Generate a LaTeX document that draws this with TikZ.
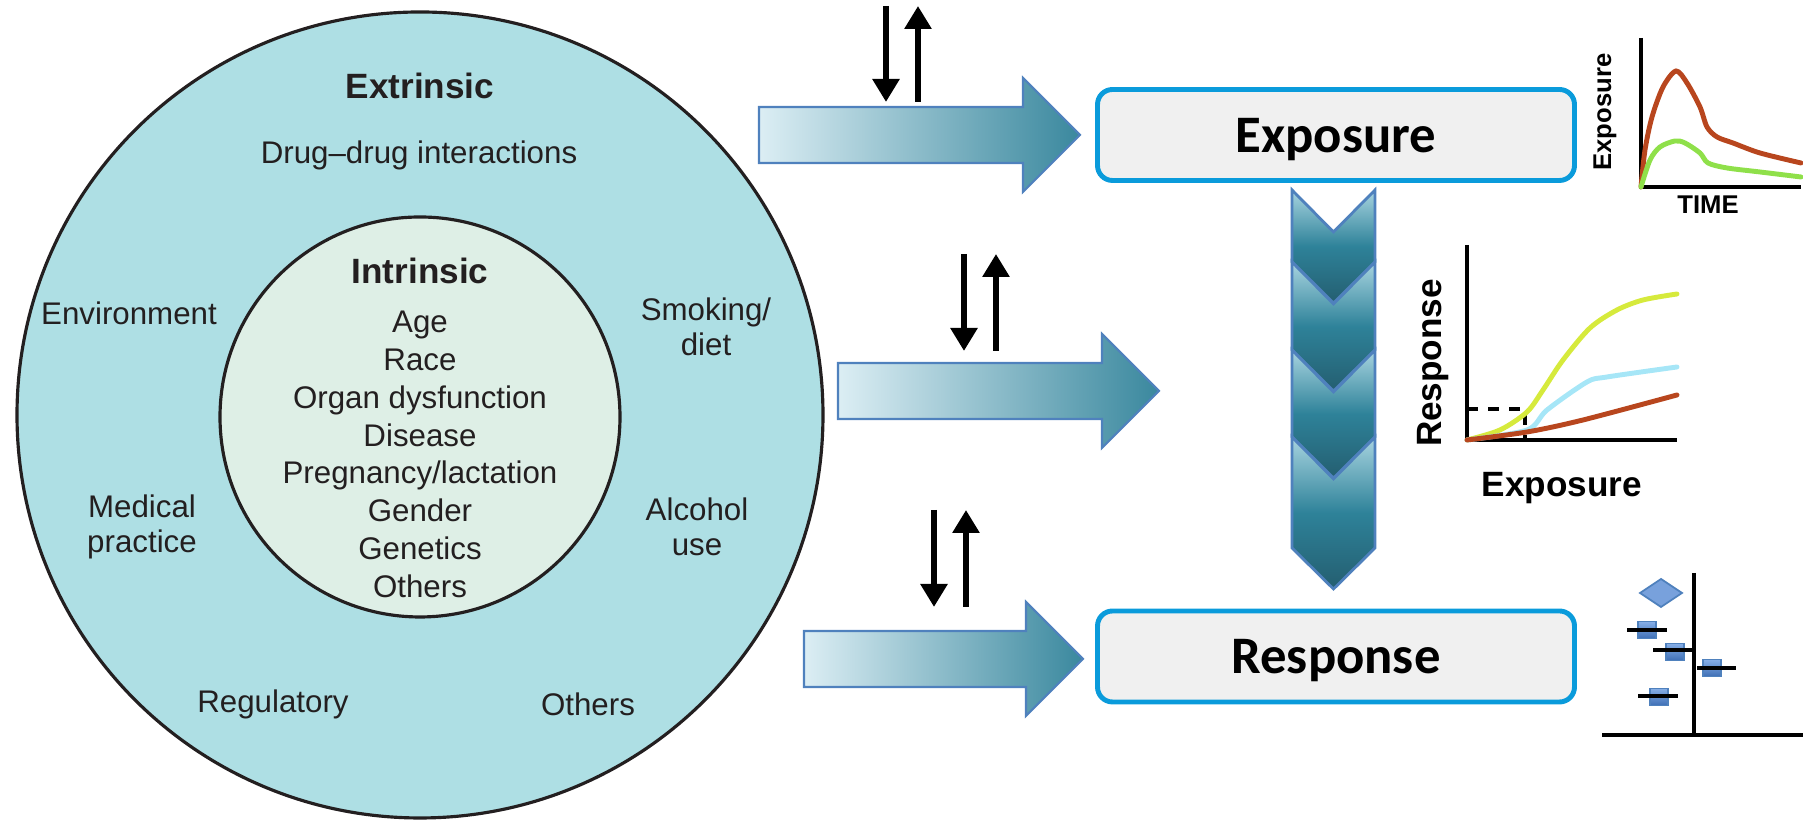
\documentclass[tikz,border=0pt]{standalone}
\usepackage{fontspec}
\setmainfont{Liberation Sans}
\newfontfamily\boxfont{Carlito}
\usepackage{xcolor}
\usepackage{tikz}
\usetikzlibrary{arrows.meta}

\definecolor{ringblue}{HTML}{AEDFE4}
\definecolor{corepale}{HTML}{DEEFE6}
\definecolor{inktext}{HTML}{231F20}
\definecolor{boxblue}{HTML}{0A9BDB}
\definecolor{boxfill}{HTML}{F0F0F0}
\definecolor{arrowedge}{HTML}{4F81BD}
\definecolor{teallight}{HTML}{DCEEF4}
\definecolor{tealdark}{HTML}{3A889E}
\definecolor{chevtop}{HTML}{A8D4E0}
\definecolor{chevmid}{HTML}{2E8299}
\definecolor{chevbot}{HTML}{245E70}
\definecolor{curvered}{HTML}{B8461E}
\definecolor{curvegreen}{HTML}{8FE04A}
\definecolor{curveyellow}{HTML}{D6EA3C}
\definecolor{curvecyan}{HTML}{A6E6F7}
\definecolor{marklight}{HTML}{86AEE6}
\definecolor{markdark}{HTML}{3F6FB5}

\begin{document}
\begin{tikzpicture}[
    factor/.style={text=inktext, align=center, font=\fontsize{8.9}{10}\selectfont},
    heading/.style={text=inktext, font=\fontsize{10}{12}\selectfont\bfseries},
    stagebox/.style={draw=boxblue, line width=1.4pt, fill=boxfill, rounded corners=0.15cm,
        minimum width=4.77cm, minimum height=0.91cm, text depth=0pt, font=\boxfont\fontsize{15}{18}\selectfont\bfseries},
    flow/.style={draw=arrowedge, line width=0.6pt, left color=teallight, right color=tealdark},
    chevron/.style={draw=arrowedge, line width=0.8pt, top color=chevtop, bottom color=chevbot, middle color=chevmid},
    updown/.style={line width=1.7pt, -{Triangle[width=2.6mm,length=2.3mm]}},
    axis/.style={line width=1.2pt},
    curve/.style={line width=1.4pt, line cap=round},
    smalllabel/.style={font=\fontsize{7.3}{8}\selectfont\bfseries},
    biglabel/.style={font=\fontsize{10}{12}\selectfont\bfseries},
    marker/.style={draw=arrowedge, line width=0.5pt, top color=marklight, bottom color=markdark}
]
    \useasboundingbox (0,0) rectangle (18.03,8.21);

    %%% CIRCLES %%%
    \draw[line width=0.9pt, draw=inktext, fill=ringblue] (4.20,4.06) circle (4.03);
    \draw[line width=0.9pt, draw=inktext, fill=corepale] (4.20,4.04) circle (2.00);

    %%% FACTORS %%%
    \node[heading] (extr) at (4.20,7.35) {Extrinsic};
    \node[factor] (ddi) at (4.19,6.66) {Drug--drug interactions};
    \node[factor] (env) at (1.29,5.08) {Environment};
    \node[factor] (smoke) at (7.06,4.94) {Smoking/\\diet};
    \node[factor] (medic) at (1.42,2.94) {Medical\\practice};
    \node[factor] (alco) at (6.97,2.94) {Alcohol\\use};
    \node[factor] (regul) at (2.73,1.17) {Regulatory};
    \node[factor] (othext) at (5.88,1.17) {Others};
    \node[heading] (intr) at (4.20,5.50) {Intrinsic};
    \node[factor, font=\fontsize{8.9}{10.75}\selectfont] (intrlist) at (4.20,3.665)
        {Age\\Race\\Organ dysfunction\\Disease\\Pregnancy/lactation\\Gender\\Genetics\\Others};

    %%% FLOW ARROWS %%%
    \foreach \xa/\xb/\ya in {7.59/10.23/6.86, 8.38/11.02/4.30, 8.04/10.26/1.62}
        \path[flow] (\xa,\ya-0.28) -- (\xb,\ya-0.28) -- (\xb,\ya-0.57) -- (\xb+0.57,\ya)
            -- (\xb,\ya+0.57) -- (\xb,\ya+0.28) -- (\xa,\ya+0.28) -- cycle;

    %%% UP AND DOWN ARROWS %%%
    \foreach \xd/\yt/\yb [count=\i] in {8.86/8.15/7.19, 9.64/5.67/4.70, 9.34/3.11/2.14} {
        \coordinate (dn\i s) at (\xd,\yt);
        \coordinate (dn\i e) at (\xd,\yb);
        \coordinate (up\i s) at (\xd+0.32,\yb);
        \coordinate (up\i e) at (\xd+0.32,\yt);
        \draw[updown] (dn\i s) -- (dn\i e);
        \draw[updown] (up\i s) -- (up\i e);
    }

    %%% CHEVRONS %%%
    \foreach \t/\b in {6.31/5.59, 5.59/4.71, 4.71/3.84, 3.84/2.73}
        \path[chevron] (12.92,\t) -- (13.335,\t-0.42) -- (13.75,\t) -- (13.75,\b)
            -- (13.335,\b-0.41) -- (12.92,\b) -- cycle;

    %%% STAGES %%%
    \node[stagebox] (expo) at (13.36,6.86) {Exposure};
    \node[stagebox] (resp) at (13.36,1.645) {Response};

    %%% EXPOSURE OVER TIME %%%
    \draw[axis] (16.41,7.83) -- (16.41,6.34) -- (18.01,6.34);
    \draw[curve, curvered] plot[smooth] coordinates {(16.41,6.34) (16.45,6.71) (16.52,7.04) (16.63,7.34)
        (16.76,7.50) (16.87,7.38) (17.00,7.14) (17.07,6.94) (17.17,6.84) (17.33,6.78) (17.60,6.68) (18.01,6.58)};
    \draw[curve, curvegreen] plot[smooth] coordinates {(16.41,6.34) (16.50,6.61) (16.60,6.74) (16.75,6.80)
        (16.85,6.78) (17.00,6.68) (17.08,6.58) (17.27,6.53) (17.60,6.49) (18.01,6.44)};
    \node[smalllabel, rotate=90] (expoy) at (16.05,7.09) {Exposure};
    \node[smalllabel] (timex) at (17.08,6.16) {TIME};

    %%% RESPONSE OVER EXPOSURE %%%
    \draw[line width=0.9pt, dashed] (14.67,4.12) -- (15.25,4.12) -- (15.25,3.81);
    \draw[axis] (14.67,5.76) -- (14.67,3.81) -- (16.77,3.81);
    \draw[curve, curveyellow] plot[smooth] coordinates {(14.67,3.81) (15.00,3.91) (15.27,4.09) (15.43,4.31)
        (15.63,4.61) (15.90,4.93) (16.17,5.11) (16.43,5.21) (16.77,5.27)};
    \draw[curve, curvecyan] plot[smooth] coordinates {(14.67,3.81) (15.27,3.91) (15.47,4.11) (15.87,4.39)
        (16.07,4.44) (16.77,4.54)};
    \draw[curve, curvered] plot[smooth] coordinates {(14.67,3.81) (15.27,3.89) (15.83,4.01) (16.77,4.26)};
    \node[biglabel, rotate=90] (respy) at (14.33,4.58) {Response};
    \node[biglabel] (expox) at (15.62,3.33) {Exposure};

    %%% FOREST PLOT %%%
    \path[draw=arrowedge, line width=0.5pt, fill=marklight!80!markdark] (16.40,2.28) -- (16.61,2.42) -- (16.82,2.28) -- (16.61,2.14) -- cycle;
    \foreach \xm/\ym in {16.47/1.91, 16.75/1.69, 17.12/1.53, 16.59/1.24}
        \path[marker] (\xm-0.09,\ym-0.085) rectangle (\xm+0.09,\ym+0.085);
    \foreach \xl/\xr/\yl in {16.27/16.67/1.91, 16.53/16.94/1.71, 16.97/17.36/1.53, 16.38/16.78/1.25}
        \draw[axis, line width=1.4pt] (\xl,\yl) -- (\xr,\yl);
    \draw[axis, line width=1.4pt] (16.94,2.48) -- (16.94,0.86);
    \draw[axis, line width=1.4pt] (16.02,0.86) -- (18.03,0.86);
\end{tikzpicture}
\end{document}
